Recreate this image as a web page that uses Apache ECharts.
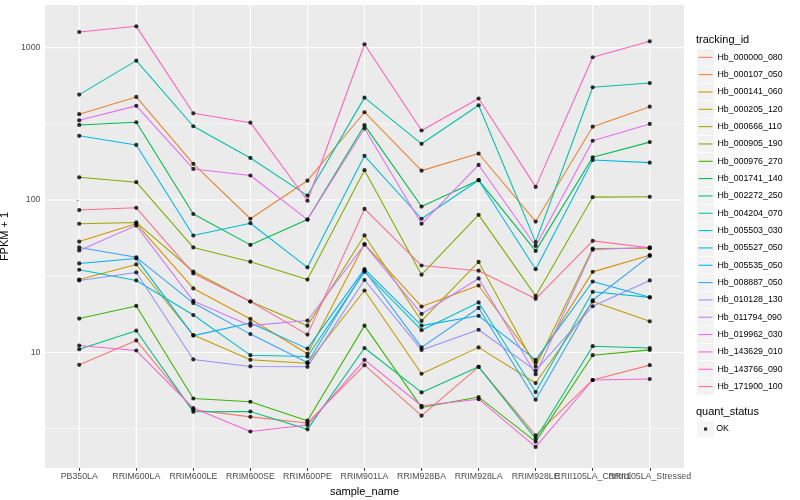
<!DOCTYPE html>
<html><head><meta charset="utf-8">
<script src="https://cdn.jsdelivr.net/npm/echarts@6/dist/echarts.min.js"></script>
<style>html,body{margin:0;padding:0;background:#fff}#c{width:800px;height:500px}</style>
</head><body><div id="c"></div>
<script>
// ---- data ----
const categories = ['PB350LA','RRIM600LA','RRIM600LE','RRIM600SE','RRIM600PE','RRIM901LA','RRIM928BA','RRIM928LA','RRIM928LE','RRII105LA_Control','RRII105LA_Stressed'];
const trackingIds = ['Hb_000000_080','Hb_000107_050','Hb_000141_060','Hb_000205_120','Hb_000666_110','Hb_000905_190','Hb_000976_270','Hb_001741_140','Hb_002272_250','Hb_004204_070','Hb_005503_030','Hb_005527_050','Hb_005535_050','Hb_008887_050','Hb_010128_130','Hb_011794_090','Hb_019962_030','Hb_143629_010','Hb_143766_090','Hb_171900_100'];
const palette = ['#F8766D','#EA8331','#D89000','#C09B00','#A3A500','#7CAE00','#39B600','#00BB4E','#00BF7D','#00C1A3','#00BFC4','#00BAE0','#00B0F6','#35A2FF','#9590FF','#C77CFF','#E76BF3','#FA62DB','#FF62BC','#FF6C91'];

const Hb_000000_080 = [8.3, 12.0, 4.21, 3.78, 3.45, 8.26, 3.85, 8.05, 2.86, 6.6, 8.26];
const Hb_000107_050 = [366, 475, 173, 75.4, 134, 377, 156, 202, 72.3, 303, 410];
const Hb_000141_060 = [53.4, 70, 26.3, 16.6, 9.8, 51.4, 20.0, 27.5, 8.6, 33.8, 43.5];
const Hb_000205_120 = [30.1, 37.8, 13.0, 8.95, 8.5, 25.5, 7.25, 10.8, 6.3, 21.6, 16.0];
const Hb_000666_110 = [69.9, 71.3, 34.0, 21.6, 15.0, 58.6, 16.1, 39.3, 8.1, 48.1, 48.3];
const Hb_000905_190 = [141, 131, 48.9, 39.4, 30.1, 157, 32.4, 80, 23.5, 104.5, 105];
const Hb_000976_270 = [16.7, 20.2, 4.99, 4.75, 3.57, 15.0, 4.36, 5.1, 2.6, 9.6, 10.4];
const Hb_001741_140 = [311, 324, 81, 50.8, 74.5, 310, 90.7, 135, 46.4, 191, 240];
const Hb_002272_250 = [10.5, 13.9, 4.08, 4.1, 3.13, 10.7, 5.47, 8.05, 2.72, 11.0, 10.7];
const Hb_004204_070 = [492, 822, 305, 189, 107, 470, 234, 419, 53, 550, 586];
const Hb_005503_030 = [34.9, 29.7, 17.6, 9.6, 9.4, 33.8, 14.0, 21.3, 5.5, 25, 23];
const Hb_005527_050 = [264, 230, 58.5, 70.5, 36.2, 195, 75.4, 135, 35.2, 183, 176];
const Hb_005535_050 = [38.4, 41.4, 12.9, 15.6, 10.6, 35.2, 15.0, 17.4, 8.95, 29.2, 23];
const Hb_008887_050 = [48.9, 42.1, 21.1, 13.2, 8.6, 34.5, 10.8, 19.6, 4.9, 22, 43];
const Hb_010128_130 = [29.7, 33.5, 9.0, 8.1, 8.05, 29.9, 10.4, 14.1, 7.6, 20.1, 29.7];
const Hb_011794_090 = [46.7, 68, 21.8, 15.0, 16.2, 51, 17.9, 30.6, 7.2, 47.2, 49];
const Hb_019962_030 = [334, 415, 160, 145, 74.5, 295, 69.9, 170, 50, 245, 316];
const Hb_143629_010 = [11.1, 10.3, 4.32, 3.03, 3.34, 8.95, 4.47, 4.94, 2.4, 6.6, 6.7];
const Hb_143766_090 = [1267, 1380, 371, 322, 99, 1053, 286, 464, 122, 865, 1101];
const Hb_171900_100 = [86, 89, 33.0, 21.6, 13.1, 87.5, 37.2, 34.4, 22.5, 54, 48.6];

const yTickValues = [10, 100, 1000];
const yMinorValues = [3.1623, 31.623, 316.23];
const yRange = [1.746, 1905];
const xRange = [-0.6, 10.6];

// ---- build ----
const seriesValues = [Hb_000000_080,Hb_000107_050,Hb_000141_060,Hb_000205_120,Hb_000666_110,Hb_000905_190,Hb_000976_270,Hb_001741_140,Hb_002272_250,Hb_004204_070,Hb_005503_030,Hb_005527_050,Hb_005535_050,Hb_008887_050,Hb_010128_130,Hb_011794_090,Hb_019962_030,Hb_143629_010,Hb_143766_090,Hb_171900_100];
const FONT = 'Liberation Sans, Arial, Helvetica, sans-serif';
const catIdx = categories.map((c, i) => i);
// labels split across two axes so that overlapping neighbours are both drawn (as in the reference)
const labelIdxA = catIdx.filter(i => i % 2 === 0);
const labelIdxB = catIdx.filter(i => i % 2 === 1);

const gridSeries = [];
function gridLine(data, w) {
  gridSeries.push({ type: 'line', z: 1, silent: true, symbol: 'none', showSymbol: false, animation: false,
    data: data, lineStyle: { color: '#FFFFFF', width: w }, itemStyle: { color: '#FFFFFF' } });
}
yMinorValues.forEach(v => gridLine([[xRange[0], v], [xRange[1], v]], 0.53));
yTickValues.forEach(v => gridLine([[xRange[0], v], [xRange[1], v]], 1.07));
catIdx.forEach(i => gridLine([[i, yRange[0]], [i, yRange[1]]], 1.07));

const lineSeries = trackingIds.map((id, i) => ({
  name: id, type: 'line', z: 3, silent: true, animation: false,
  symbol: 'none', showSymbol: false,
  data: seriesValues[i].map((v, j) => [j, v]),
  lineStyle: { width: 1.07, color: palette[i] },
  itemStyle: { color: palette[i] }
}));

const points = [];
seriesValues.forEach(arr => arr.forEach((v, j) => points.push([j, v])));

const xLabelStyle = { formatter: v => categories[Math.round(v)] || '', fontSize: 8.8, color: '#4D4D4D',
  margin: 4.5, fontFamily: FONT, hideOverlap: false, showMinLabel: true, showMaxLabel: true };

const option = {
  animation: false,
  backgroundColor: '#ffffff',
  textStyle: { fontFamily: FONT },
  grid: { left: 45, right: 116, top: 5, bottom: 32, show: true, backgroundColor: '#EBEBEB', borderWidth: 0,
          containLabel: false, outerBoundsMode: 'none' },
  title: [
    { text: 'tracking_id', left: 696, top: 34.5, padding: 0, textStyle: { fontSize: 11, fontWeight: 'normal', color: '#000', fontFamily: FONT } },
    { text: 'quant_status', left: 696, top: 406, padding: 0, textStyle: { fontSize: 11, fontWeight: 'normal', color: '#000', fontFamily: FONT } }
  ],
  legend: [
    { id: 'boxes', data: trackingIds, orient: 'vertical', left: 697, top: 49.1, padding: 0,
      itemWidth: 17, itemHeight: 16.5, itemGap: 0.83, icon: 'rect', selectedMode: false, z: 3,
      itemStyle: { color: '#F2F2F2', borderWidth: 0 }, formatter: () => '',
      textStyle: { fontSize: 8.8, lineHeight: 16.5, color: 'rgba(0,0,0,0)' } },
    { id: 'lines', data: trackingIds, orient: 'vertical', left: 698.5, top: 48.8, padding: 0,
      itemWidth: 14, itemHeight: 1.07, itemGap: 0.33, icon: 'rect', selectedMode: false, z: 4,
      itemStyle: { borderWidth: 0 },
      textStyle: { fontSize: 8.8, lineHeight: 17, color: '#000', fontFamily: FONT } },
    { id: 'okbox', data: ['OK'], orient: 'vertical', left: 697, top: 420.7, padding: 0,
      itemWidth: 17, itemHeight: 16.5, icon: 'rect', selectedMode: false, z: 3,
      itemStyle: { color: '#F2F2F2', borderWidth: 0 }, formatter: () => '',
      textStyle: { fontSize: 8.8, lineHeight: 16.5, color: 'rgba(0,0,0,0)' } },
    { id: 'ok', data: ['OK'], orient: 'vertical', left: 704, top: 420.5, padding: 0,
      itemWidth: 3.2, itemHeight: 3.2, icon: 'rect', selectedMode: false, z: 4,
      itemStyle: { color: '#000' },
      textStyle: { fontSize: 8.8, lineHeight: 17, color: '#000', fontFamily: FONT, padding: [0, 0, 0, 4] } }
  ],
  xAxis: [{
    type: 'value', position: 'bottom', min: xRange[0], max: xRange[1],
    axisLine: { show: false }, splitLine: { show: false },
    axisTick: { show: true, customValues: catIdx, length: 2.75, lineStyle: { color: '#333333', width: 1.07 } },
    axisLabel: Object.assign({ customValues: labelIdxA }, xLabelStyle),
    name: 'sample_name', nameLocation: 'middle', nameGap: 14,
    nameTextStyle: { fontSize: 11, color: '#000', fontFamily: FONT }
  }, {
    type: 'value', position: 'bottom', offset: 0, min: xRange[0], max: xRange[1],
    axisLine: { show: false }, splitLine: { show: false }, axisTick: { show: false },
    axisLabel: Object.assign({ customValues: labelIdxB }, xLabelStyle)
  }],
  yAxis: {
    type: 'log', logBase: 10, min: yRange[0], max: yRange[1],
    axisLine: { show: false }, splitLine: { show: false }, minorSplitLine: { show: false },
    axisTick: { show: true, customValues: yTickValues, length: 2.75, lineStyle: { color: '#333333', width: 1.07 } },
    axisLabel: { customValues: yTickValues, formatter: v => String(Math.round(v)), fontSize: 8.8, color: '#4D4D4D',
                 margin: 4.5, fontFamily: FONT, showMinLabel: true, showMaxLabel: true },
    name: 'FPKM + 1', nameLocation: 'middle', nameGap: 27,
    nameTextStyle: { fontSize: 11, color: '#000', fontFamily: FONT }
  },
  series: [
    ...gridSeries,
    ...lineSeries,
    { name: 'OK', type: 'scatter', z: 5, silent: true, data: points, symbol: 'circle', symbolSize: 4.2,
      itemStyle: { color: '#000000' } }
  ]
};
const chart = echarts.init(document.getElementById('c'), null, { renderer: 'canvas' });
chart.setOption(option);
</script></body></html>
